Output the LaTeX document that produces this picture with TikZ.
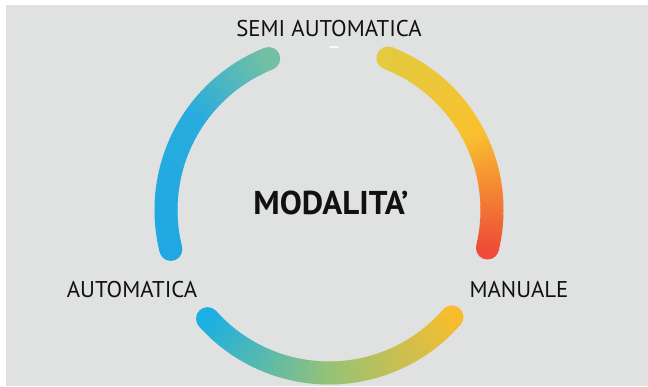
\documentclass[tikz,border=0pt]{standalone}
\usepackage{fontspec}
\setmainfont{PT Sans}
\definecolor{bggray}{HTML}{E0E1E1}
\definecolor{txt}{HTML}{111111}
\definecolor{lblue}{HTML}{20A8E2}
\definecolor{lblue2}{HTML}{28ACDE}
\definecolor{lteal}{HTML}{74C0A3}
\definecolor{ryel}{HTML}{E3CA3E}
\definecolor{ryel2}{HTML}{F9C12F}
\definecolor{rred}{HTML}{EF4C37}
\definecolor{bblue}{HTML}{1BB0E3}
\definecolor{bgreen}{HTML}{96C277}
\definecolor{byel}{HTML}{F8BD2E}
\newcommand\garc[4]{% start angle, end angle, color at start, color at end
  \foreach \k in {1,...,40}{%
    \pgfmathsetmacro\aa{#1+(#2-#1)*(\k-1)/40}%
    \pgfmathsetmacro\ab{#1+(#2-#1)*(\k+0.2)/40}%
    \pgfmathtruncatemacro\p{100*(\k-0.5)/40}%
    \colorlet{segc}{#4!\p!#3}%
    \draw[arcseg,segc] ([shift={(\aa:163)}]c) arc[start angle=\aa, end angle=\ab, radius=163];
  }%
}
\newcommand\gcap[2]{\fill[#2] ([shift={(#1:163)}]c) circle[radius=11.5];}
\tikzset{
  arcseg/.style={line width=23pt, line cap=butt},
  lbl/.style={text=txt, font=\fontsize{22.8}{26}\selectfont, inner sep=0pt},
  title/.style={text=txt, font=\bfseries\fontsize{33}{38}\selectfont, inner sep=0pt}
}
\begin{document}
\begin{tikzpicture}[x=1pt,y=1pt]
\fill[white] (0,0) rectangle (648,386);
\fill[bggray] (6,0) rectangle (648,381);
\useasboundingbox (0,0) rectangle (648,386);
\coordinate (c) at (329,176);
% left arc
\gcap{194}{lblue}
\gcap{111.7}{lteal}
\garc{194}{145}{lblue}{lblue2}
\garc{145}{111.7}{lblue2}{lteal}
% right arc
\gcap{68.8}{ryel}
\gcap{-13.5}{rred}
\garc{68.8}{28}{ryel}{ryel2}
\garc{28}{-13.5}{ryel2}{rred}
% bottom arc
\gcap{221.8}{bblue}
\gcap{319}{byel}
\garc{221.8}{270}{bblue}{bgreen}
\garc{270}{319}{bgreen}{byel}
% small white mark
\coordinate (m1) at (330,339);
\coordinate (m2) at (338,339);
\draw[white, line width=1.5pt, line cap=round, opacity=0.8] (m1) -- (m2);
% labels
\node[lbl] (semi) at (329,357) {SEMI AUTOMATICA};
\node[title] (mod) at (331,183) {MODALITA’};
\node[lbl] (auto) at (132,96) {AUTOMATICA};
\node[lbl] (man) at (519,96) {MANUALE};
\end{tikzpicture}
\end{document}
